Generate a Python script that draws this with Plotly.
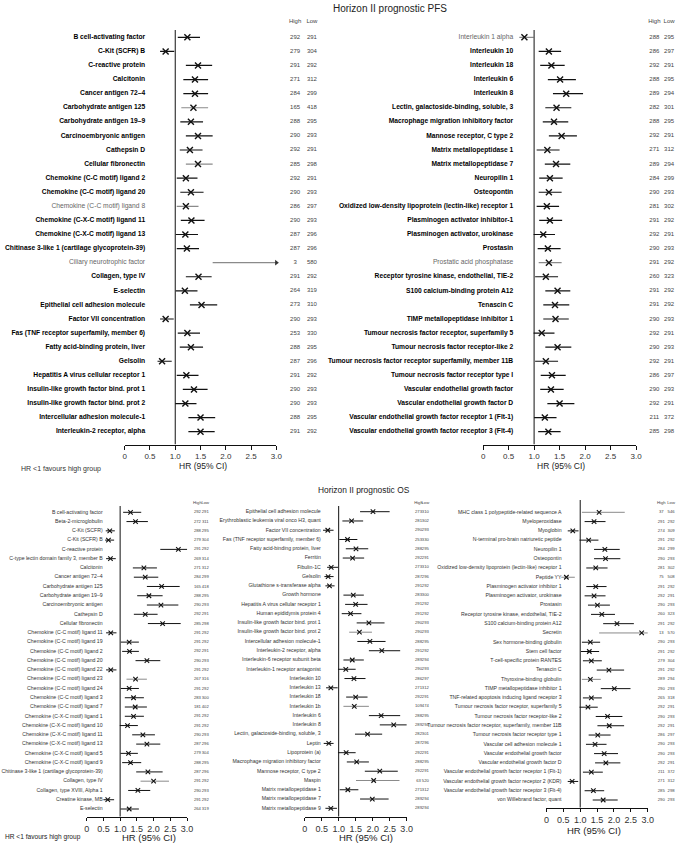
import plotly.graph_objects as go

W, H = 685, 843
FONT = "Liberation Sans, Arial, Helvetica, sans-serif"

# ---------------- PFS, left column ----------------
pfs_l_names = [
    "B cell-activating factor", "C-Kit (SCFR) B", "C-reactive protein", "Calcitonin",
    "Cancer antigen 72–4", "Carbohydrate antigen 125", "Carbohydrate antigen 19–9",
    "Carcinoembryonic antigen", "Cathepsin D", "Cellular fibronectin",
    "Chemokine (C-C motif) ligand 2", "Chemokine (C-C motif) ligand 20",
    "Chemokine (C-C motif) ligand 8", "Chemokine (C-X-C motif) ligand 11",
    "Chemokine (C-X-C motif) ligand 13", "Chitinase 3-like 1 (cartilage glycoprotein-39)",
    "Ciliary neurotrophic factor", "Collagen, type IV", "E-selectin",
    "Epithelial cell adhesion molecule", "Factor VII concentration",
    "Fas (TNF receptor superfamily, member 6)", "Fatty acid-binding protein, liver",
    "Gelsolin", "Hepatitis A virus cellular receptor 1",
    "Insulin-like growth factor bind. prot 1", "Insulin-like growth factor bind. prot 2",
    "Intercellular adhesion molecule-1", "Interleukin-2 receptor, alpha"]
pfs_l_hr = [1.24, 0.81, 1.45, 1.39, 1.39, 1.36, 1.31, 1.45, 1.29, 1.45, 1.21, 1.31, 1.21, 1.32,
            1.20, 1.23, None, 1.46, 1.19, 1.52, 0.81, 1.24, 1.31, 0.74, 1.22, 1.37, 1.20, 1.50, 1.50]
pfs_l_lo = [1.05, 0.70, 1.21, 1.16, 1.16, 1.12, 1.10, 1.21, 1.09, 1.21, 1.03, 1.10, 1.03, 1.11,
            1.01, 1.03, 1.74, 1.21, 1.01, 1.29, 0.70, 1.05, 1.09, 0.65, 1.03, 1.15, 1.00, 1.26, 1.26]
pfs_l_hi = [1.49, 0.98, 1.73, 1.65, 1.65, 1.65, 1.55, 1.74, 1.54, 1.74, 1.44, 1.56, 1.46, 1.58,
            1.45, 1.47, 3.00, 1.72, 1.44, 1.83, 0.97, 1.49, 1.55, 0.93, 1.46, 1.64, 1.42, 1.79, 1.78]
pfs_l_nhigh = [292, 279, 291, 271, 284, 165, 288, 290, 292, 285, 292, 290, 286, 290, 287, 287, 3,
               291, 264, 273, 290, 253, 288, 287, 291, 290, 290, 288, 291]
pfs_l_nlow = [291, 304, 292, 312, 299, 418, 295, 293, 291, 298, 291, 293, 297, 293, 296, 296, 580,
              292, 319, 310, 293, 330, 295, 296, 292, 293, 293, 295, 292]

# ---------------- PFS, right column ----------------
pfs_r_names = [
    "Interleukin 1 alpha", "Interleukin 10", "Interleukin 18", "Interleukin 6", "Interleukin 8",
    "Lectin, galactoside-binding, soluble, 3", "Macrophage migration inhibitory factor",
    "Mannose receptor, C type 2", "Matrix metallopeptidase 1", "Matrix metallopeptidase 7",
    "Neuropilin 1", "Osteopontin", "Oxidized low-density lipoprotein (lectin-like) receptor 1",
    "Plasminogen activator inhibitor-1", "Plasminogen activator, urokinase", "Prostasin",
    "Prostatic acid phosphatase", "Receptor tyrosine kinase, endothelial, TIE-2",
    "S100 calcium-binding protein A12", "Tenascin C", "TIMP metallopeptidase inhibitor 1",
    "Tumour necrosis factor receptor, superfamily 5", "Tumour necrosis factor receptor-like 2",
    "Tumour necrosis factor receptor superfamily, member 11B",
    "Tumour necrosis factor receptor type I", "Vascular endothelial growth factor",
    "Vascular endothelial growth factor D",
    "Vascular endothelial growth factor receptor 1 (Flt-1)",
    "Vascular endothelial growth factor receptor 3 (Flt-4)"]
pfs_r_hr = [0.81, 1.29, 1.34, 1.51, 1.63, 1.44, 1.39, 1.54, 1.26, 1.43, 1.31, 1.29, 1.25, 1.31,
            1.18, 1.27, 1.29, 1.23, 1.46, 1.41, 1.42, 1.15, 1.46, 1.23, 1.35, 1.33, 1.50, 1.21, 1.28]
pfs_r_lo = [0.71, 1.09, 1.12, 1.27, 1.37, 1.22, 1.17, 1.29, 1.05, 1.21, 1.10, 1.09, 1.05, 1.10,
            0.99, 1.07, 1.09, 1.02, 1.22, 1.18, 1.18, 0.99, 1.22, 1.02, 1.13, 1.12, 1.26, 1.00, 1.08]
pfs_r_hi = [0.99, 1.53, 1.60, 1.82, 1.96, 1.73, 1.67, 1.84, 1.50, 1.71, 1.56, 1.54, 1.49, 1.55,
            1.41, 1.52, 1.54, 1.47, 1.71, 1.69, 1.68, 1.40, 1.73, 1.47, 1.62, 1.58, 1.79, 1.44, 1.52]
pfs_r_nhigh = [288, 286, 292, 288, 289, 282, 288, 292, 271, 289, 284, 290, 281, 291, 292, 290, 291,
               260, 291, 291, 290, 292, 290, 292, 286, 290, 292, 211, 285]
pfs_r_nlow = [295, 297, 291, 295, 294, 301, 295, 291, 312, 294, 299, 293, 302, 292, 291, 293, 292,
              323, 292, 292, 293, 291, 293, 291, 297, 293, 291, 372, 298]

# ---------------- OS, left column ----------------
os_l_names = [
    "B cell-activating factor", "Beta-2-microglobulin", "C-Kit (SCFR)", "C-Kit (SCFR) B",
    "C-reactive protein", "C-type lectin domain family 3, member B", "Calcitonin",
    "Cancer antigen 72–4", "Carbohydrate antigen 125", "Carbohydrate antigen 19–9",
    "Carcinoembryonic antigen", "Cathepsin D", "Cellular fibronectin",
    "Chemokine (C-C motif) ligand 11", "Chemokine (C-C motif) ligand 19",
    "Chemokine (C-C motif) ligand 2", "Chemokine (C-C motif) ligand 20",
    "Chemokine (C-C motif) ligand 22", "Chemokine (C-C motif) ligand 23",
    "Chemokine (C-C motif) ligand 24", "Chemokine (C-C motif) ligand 3",
    "Chemokine (C-C motif) ligand 7", "Chemokine (C-X-C motif) ligand 1",
    "Chemokine (C-X-C motif) ligand 10", "Chemokine (C-X-C motif) ligand 11",
    "Chemokine (C-X-C motif) ligand 13", "Chemokine (C-X-C motif) ligand 5",
    "Chemokine (C-X-C motif) ligand 9", "Chitinase 3-like 1 (cartilage glycoprotein-39)",
    "Collagen, type IV", "Collagen, type XVIII, Alpha 1", "Creatine kinase, MB", "E-selectin"]
os_l_hr = [1.31, 1.46, 0.69, 0.65, 2.74, 0.71, 1.71, 1.75, 2.24, 1.86, 2.22, 1.75, 2.27, 0.72,
           1.27, 1.28, 1.80, 0.72, 1.46, 1.27, 1.40, 1.45, 1.40, 1.22, 1.68, 1.80, 1.25, 1.31,
           1.83, 2.00, 1.53, 0.63, 1.27]
os_l_lo = [1.09, 1.19, 0.57, 0.55, 2.20, 0.58, 1.38, 1.41, 1.80, 1.51, 1.80, 1.41, 1.83, 0.58,
           1.02, 1.06, 1.46, 0.58, 1.19, 1.02, 1.14, 1.14, 1.14, 0.99, 1.36, 1.48, 1.01, 1.06,
           1.48, 1.61, 1.24, 0.50, 1.01]
os_l_hi = [1.63, 1.83, 0.84, 0.82, 3.10, 0.87, 2.10, 2.14, 2.78, 2.27, 2.74, 2.12, 2.81, 0.89,
           1.56, 1.56, 2.20, 0.89, 1.80, 1.56, 1.71, 1.80, 1.71, 1.53, 2.04, 2.20, 1.53, 1.63,
           2.27, 2.46, 1.90, 0.82, 1.56]
os_l_nhigh = [292, 272, 288, 279, 291, 269, 271, 284, 165, 288, 290, 292, 285, 291, 291, 292, 290,
              291, 267, 291, 283, 181, 291, 291, 290, 287, 279, 288, 287, 291, 290, 291, 264]
os_l_nlow = [291, 311, 295, 304, 292, 314, 312, 299, 418, 295, 293, 291, 298, 292, 292, 291, 293,
             292, 316, 292, 300, 402, 292, 292, 293, 296, 304, 295, 296, 292, 293, 292, 319]

# ---------------- OS, middle column ----------------
os_m_names = [
    "Epithelial cell adhesion molecule", "Erythroblastic leukemia viral onco H3, quant",
    "Factor VII concentration", "Fas (TNF receptor superfamily, member 6)",
    "Fatty acid-binding protein, liver", "Ferritin", "Fibulin-1C", "Gelsolin",
    "Glutathione s-transferase alpha", "Growth hormone", "Hepatitis A virus cellular receptor 1",
    "Human epididymis protein 4", "Insulin-like growth factor bind. prot 1",
    "Insulin-like growth factor bind. prot 2", "Intercellular adhesion molecule-1",
    "Interleukin-2 receptor, alpha", "Interleukin-6 receptor subunit beta",
    "Interleukin-1 receptor antagonist", "Interleukin 10", "Interleukin 13", "Interleukin 18",
    "Interleukin 1b", "Interleukin 6", "Interleukin 8", "Lectin, galactoside-binding, soluble, 3",
    "Leptin", "Lipoprotein (a)", "Macrophage migration inhibitory factor",
    "Mannose receptor, C type 2", "Maspin", "Matrix metallopeptidase 1",
    "Matrix metallopeptidase 7", "Matrix metallopeptidase 9"]
os_m_hr = [2.01, 1.38, 0.68, 1.26, 1.51, 1.41, 0.78, 0.69, 0.73, 1.43, 1.50, 1.35, 1.89, 1.61,
           1.92, 2.27, 1.40, 1.21, 1.45, 0.77, 1.50, 1.46, 2.25, 2.62, 1.85, 0.71, 1.22, 1.53,
           2.21, 2.03, 1.27, 1.99, 0.77]
os_m_lo = [1.63, 1.11, 0.54, 1.02, 1.21, 1.12, 0.66, 0.58, 0.61, 1.14, 1.19, 1.09, 1.53, 1.31,
           1.55, 1.89, 1.14, 0.98, 1.17, 0.63, 1.22, 1.14, 1.89, 2.21, 1.48, 0.56, 0.98, 1.24,
           1.77, 1.51, 1.03, 1.63, 0.61]
os_m_hi = [2.50, 1.72, 0.85, 1.55, 1.87, 1.75, 0.98, 0.85, 0.88, 1.74, 1.85, 1.67, 2.35, 1.98,
           2.38, 2.81, 1.74, 1.50, 1.79, 0.97, 1.85, 1.89, 2.81, 3.06, 2.28, 0.85, 1.50, 1.89,
           2.74, 2.79, 1.58, 2.47, 0.95]
os_m_nhigh = [273, 281, 290, 253, 288, 292, 273, 287, 291, 283, 291, 291, 290, 290, 288, 291, 289,
              290, 286, 271, 292, 109, 288, 289, 282, 287, 292, 288, 292, 63, 271, 289, 289]
os_m_nlow = [310, 302, 293, 330, 295, 291, 310, 296, 292, 300, 292, 292, 293, 293, 295, 292, 294,
             293, 297, 312, 291, 474, 295, 294, 301, 296, 291, 295, 291, 520, 312, 294, 294]

# ---------------- OS, right column ----------------
os_r_names = [
    "MHC class 1 polypeptide-related sequence A", "Myeloperoxidase", "Myoglobin",
    "N-terminal pro-brain natriuretic peptide", "Neuropilin 1", "Osteopontin",
    "Oxidized low-density lipoprotein (lectin-like) receptor 1", "Peptide YY",
    "Plasminogen activator inhibitor 1", "Plasminogen activator, urokinase", "Prostasin",
    "Receptor tyrosine kinase, endothelial, TIE-2", "S100 calcium-binding protein A12",
    "Secretin", "Sex hormone-binding globulin", "Stem cell factor",
    "T-cell-specific protein RANTES", "Tenascin C", "Thyroxine-binding globulin",
    "TIMP metallopeptidase inhibitor 1", "TNF-related apoptosis inducing ligand receptor 3",
    "Tumour necrosis factor receptor, superfamily 5", "Tumour necrosis factor receptor-like 2",
    "Tumour necrosis factor receptor, superfamily, member 11B",
    "Tumour necrosis factor receptor type 1", "Vascular cell adhesion molecule 1",
    "Vascular endothelial growth factor", "Vascular endothelial growth factor D",
    "Vascular endothelial growth factor receptor 1 (Flt-1)",
    "Vascular endothelial growth factor receptor 2 (KDR)",
    "Vascular endothelial growth factor receptor 3 (Flt-4)", "von Willebrand factor, quant"]
os_r_hr = [1.56, 1.41, 0.78, 1.25, 1.73, 1.75, 1.46, 0.59, 1.46, 1.41, 1.51, 1.64, 2.09, 2.82,
           1.30, 1.27, 1.33, 1.85, 1.30, 2.01, 1.33, 1.23, 1.81, 1.86, 1.52, 1.44, 1.71, 1.76,
           1.33, 0.76, 1.39, 1.68]
os_r_lo = [1.05, 1.13, 0.63, 0.98, 1.41, 1.41, 1.18, 0.44, 1.18, 1.13, 1.23, 1.32, 1.68, 1.56,
           1.05, 1.02, 1.08, 1.49, 1.05, 1.61, 1.08, 0.98, 1.46, 1.51, 1.25, 1.17, 1.41, 1.44,
           1.08, 0.63, 1.13, 1.37]
os_r_hi = [2.32, 1.75, 0.95, 1.54, 2.17, 2.19, 1.81, 0.84, 1.78, 1.75, 1.88, 2.03, 2.59, 3.05,
           1.59, 1.56, 1.64, 2.30, 1.61, 2.49, 1.64, 1.52, 2.25, 2.30, 1.90, 1.78, 2.12, 2.19,
           1.67, 0.94, 1.71, 2.11]
os_r_nhigh = [37, 291, 274, 291, 284, 290, 281, 75, 291, 292, 290, 260, 291, 13, 290, 291, 279,
              291, 289, 290, 265, 292, 290, 292, 286, 290, 290, 292, 211, 271, 285, 290]
os_r_nlow = [546, 292, 309, 292, 299, 293, 302, 508, 292, 291, 293, 323, 292, 570, 293, 292, 304,
             292, 294, 293, 318, 291, 293, 291, 297, 293, 293, 291, 372, 312, 298, 293]

tick_vals = [0, 0.5, 1.0, 1.5, 2.0, 2.5, 3.0]
tick_text = ["0", "0.5", "1.0", "1.5", "2.0", "2.5", "3.0"]

# styling (which rows are drawn in grey)
grey_label_names = {"Chemokine (C-C motif) ligand 8", "Ciliary neurotrophic factor",
                    "Interleukin 1 alpha", "Prostatic acid phosphatase"}
grey_line_sets = [
    {"Carbohydrate antigen 125", "Cellular fibronectin", "Chemokine (C-C motif) ligand 8",
     "Ciliary neurotrophic factor"},
    {"Interleukin 1 alpha", "Prostatic acid phosphatase"},
    {"Chemokine (C-C motif) ligand 23", "Collagen, type IV"},
    {"Insulin-like growth factor bind. prot 2", "Interleukin 1b", "Maspin"},
    {"MHC class 1 polypeptide-related sequence A", "Peptide YY", "Secretin",
     "Thyroxine-binding globulin"},
]

# layout of each panel (pixel geometry)
panels = [
    dict(names=pfs_l_names, hr=pfs_l_hr, lo=pfs_l_lo, hi=pfs_l_hi, nh=pfs_l_nhigh, nl=pfs_l_nlow,
         x0=123.3, x3=277.0, yf=37.3, yl=431.7, yax=444.5, ytop=30, lab=144, hx=296, lx=313,
         hdr=21, big=True, tx=203, ty=466),
    dict(names=pfs_r_names, hr=pfs_r_hr, lo=pfs_r_lo, hi=pfs_r_hi, nh=pfs_r_nhigh, nl=pfs_r_nlow,
         x0=486.5, x3=641.5, yf=37.3, yl=431.7, yax=444.5, ytop=30, lab=517, hx=660, lx=675,
         hdr=21, big=True, tx=565, ty=466),
    dict(names=os_l_names, hr=os_l_hr, lo=os_l_lo, hi=os_l_hi, nh=os_l_nhigh, nl=os_l_nlow,
         x0=84.8, x3=186.5, yf=512.3, yl=809.0, yax=816.7, ytop=506, lab=101, hx=197, lx=205,
         hdr=503.3, big=False, tx=148, ty=837),
    dict(names=os_m_names, hr=os_m_hr, lo=os_m_lo, hi=os_m_hi, nh=os_m_nhigh, nl=os_m_nlow,
         x0=305.7, x3=409.0, yf=511.7, yl=808.3, yax=816.7, ytop=506, lab=322, hx=421, lx=428,
         hdr=503.3, big=False, tx=368, ty=837),
    dict(names=os_r_names, hr=os_r_hr, lo=os_r_lo, hi=os_r_hi, nh=os_r_nhigh, nl=os_r_nlow,
         x0=550.7, x3=653.3, yf=512.3, yl=800.0, yax=807.7, ytop=500, lab=566, hx=667, lx=677,
         hdr=503.3, big=False, tx=599, ty=830),
]

fig = go.Figure()
lay = {}
shapes = []
annotations = []


def axname(prefix, i):
    return prefix if i == 1 else f"{prefix}{i}"


for k, p in enumerate(panels):
    n = len(p["names"])
    sp = (p["yl"] - p["yf"]) / (n - 1)

    def r(px, p=p, sp=sp):
        return (px - p["yf"]) / sp

    yi = k + 1
    xa, xb, xc = 3 * k + 1, 3 * k + 2, 3 * k + 3
    yref = axname("y", yi)
    big = p["big"]
    lw = 1.2 if big else 1.0
    ms = 6 if big else 4.5
    greys = grey_line_sets[k]

    rows = list(range(n))
    bx, by, gx, gy = [], [], [], []
    for i in rows:
        seg_x = [p["lo"][i], p["hi"][i], None]
        seg_y = [i, i, None]
        if p["names"][i] in greys:
            gx += seg_x; gy += seg_y
        else:
            bx += seg_x; by += seg_y
    fig.add_trace(go.Scatter(x=bx, y=by, mode="lines", xaxis=axname("x", xa), yaxis=yref,
                             line=dict(color="#111111", width=lw), cliponaxis=False,
                             hoverinfo="skip", showlegend=False))
    fig.add_trace(go.Scatter(x=gx, y=gy, mode="lines", xaxis=axname("x", xa), yaxis=yref,
                             line=dict(color="#8a8a8a", width=lw), cliponaxis=False,
                             hoverinfo="skip", showlegend=False))
    mx = [p["hr"][i] for i in rows if p["hr"][i] is not None]
    my = [i for i in rows if p["hr"][i] is not None]
    fig.add_trace(go.Scatter(x=mx, y=my, mode="markers", xaxis=axname("x", xa), yaxis=yref,
                             marker=dict(symbol="x-thin", size=ms,
                                         line=dict(width=1.4 if big else 1.1, color="#111111")),
                             cliponaxis=False, showlegend=False))
    ax_ = [p["hi"][i] for i in rows if p["hr"][i] is None]
    ay_ = [i for i in rows if p["hr"][i] is None]
    if ax_:
        fig.add_trace(go.Scatter(x=ax_, y=ay_, mode="markers", xaxis=axname("x", xa), yaxis=yref,
                                 marker=dict(symbol="triangle-right", size=5, color="#333333"),
                                 cliponaxis=False, showlegend=False))

    # labels
    if big:
        ltxt = [nm if nm in grey_label_names else f"<b>{nm}</b>" for nm in p["names"]]
        lcol = ["#666666" if nm in grey_label_names else "#000000" for nm in p["names"]]
        lsize = 6.7
    else:
        ltxt = list(p["names"])
        lcol = ["#333333"] * n
        lsize = 5.2
    fig.add_trace(go.Scatter(x=[1] * n, y=rows, mode="text", text=ltxt,
                             textposition="middle left", xaxis=axname("x", xb), yaxis=yref,
                             textfont=dict(family=FONT, size=lsize, color=lcol),
                             cliponaxis=False, hoverinfo="skip", showlegend=False))
    # numbers
    nsize = 6.0 if big else 4.2
    hy = r(p["hdr"])
    fig.add_trace(go.Scatter(x=[0] * n + [1] * n + [0, 1], y=rows + rows + [hy, hy],
                             mode="text",
                             text=[str(v) for v in p["nh"]] + [str(v) for v in p["nl"]] + ["High", "Low"],
                             textposition="middle center", xaxis=axname("x", xc), yaxis=yref,
                             textfont=dict(family=FONT, size=nsize, color="#444444"),
                             cliponaxis=False, hoverinfo="skip", showlegend=False))

    top_dom = p["hdr"] - 8
    lay[axname("yaxis", yi)] = dict(domain=[1 - p["yax"] / H, 1 - top_dom / H],
                                    range=[r(p["yax"]), r(top_dom)], anchor=axname("x", xa),
                                    visible=False, fixedrange=True)
    lay[axname("xaxis", xa)] = dict(domain=[p["x0"] / W, p["x3"] / W], range=[0, 3], anchor=yref,
                                    showline=True, linecolor="#111111", linewidth=1,
                                    ticks="outside", ticklen=4 if big else 3, tickcolor="#111111",
                                    tickwidth=1, tickvals=tick_vals, ticktext=tick_text,
                                    tickfont=dict(family=FONT, size=8 if big else 9, color="#333333"),
                                    showgrid=False, zeroline=False, fixedrange=True)
    lay[axname("xaxis", xb)] = dict(domain=[0, p["lab"] / W], range=[0, 1], anchor=yref,
                                    visible=False, fixedrange=True)
    lay[axname("xaxis", xc)] = dict(domain=[p["hx"] / W, p["lx"] / W], range=[0, 1], anchor=yref,
                                    visible=False, fixedrange=True)
    shapes.append(dict(type="line", xref=axname("x", xa), yref=yref, x0=1, x1=1,
                       y0=r(p["yax"]), y1=r(p["ytop"]), line=dict(color="#111111", width=1)))
    annotations.append(dict(text="HR (95% CI)", x=p["tx"] / W, y=1 - p["ty"] / H, xref="paper",
                            yref="paper", showarrow=False, xanchor="center", yanchor="middle",
                            font=dict(family=FONT, size=8.5 if big else 9.5, color="#222222")))

annotations += [
    dict(text="Horizon II prognostic PFS", x=392 / W, y=1 - 9 / H, xref="paper", yref="paper",
         showarrow=False, xanchor="center", yanchor="middle",
         font=dict(family=FONT, size=10, color="#222222")),
    dict(text="Horizon II prognostic OS", x=366 / W, y=1 - 490 / H, xref="paper", yref="paper",
         showarrow=False, xanchor="center", yanchor="middle",
         font=dict(family=FONT, size=8.4, color="#222222")),
    dict(text="HR <1 favours high group", x=16 / W, y=1 - 469 / H, xref="paper", yref="paper",
         showarrow=False, xanchor="left", yanchor="middle",
         font=dict(family=FONT, size=7, color="#333333")),
    dict(text="HR <1 favours high group", x=0, y=1 - 837 / H, xref="paper", yref="paper",
         showarrow=False, xanchor="left", yanchor="middle",
         font=dict(family=FONT, size=6.6, color="#222222")),
]

fig.update_layout(width=W, height=H, margin=dict(l=0, r=0, t=0, b=0),
                  paper_bgcolor="white", plot_bgcolor="rgba(0,0,0,0)", showlegend=False,
                  shapes=shapes, annotations=annotations, **lay)

fig.write_html("out.html", config={"displayModeBar": False},
               post_script="document.body.style.margin='0px';document.body.style.padding='0px';")
